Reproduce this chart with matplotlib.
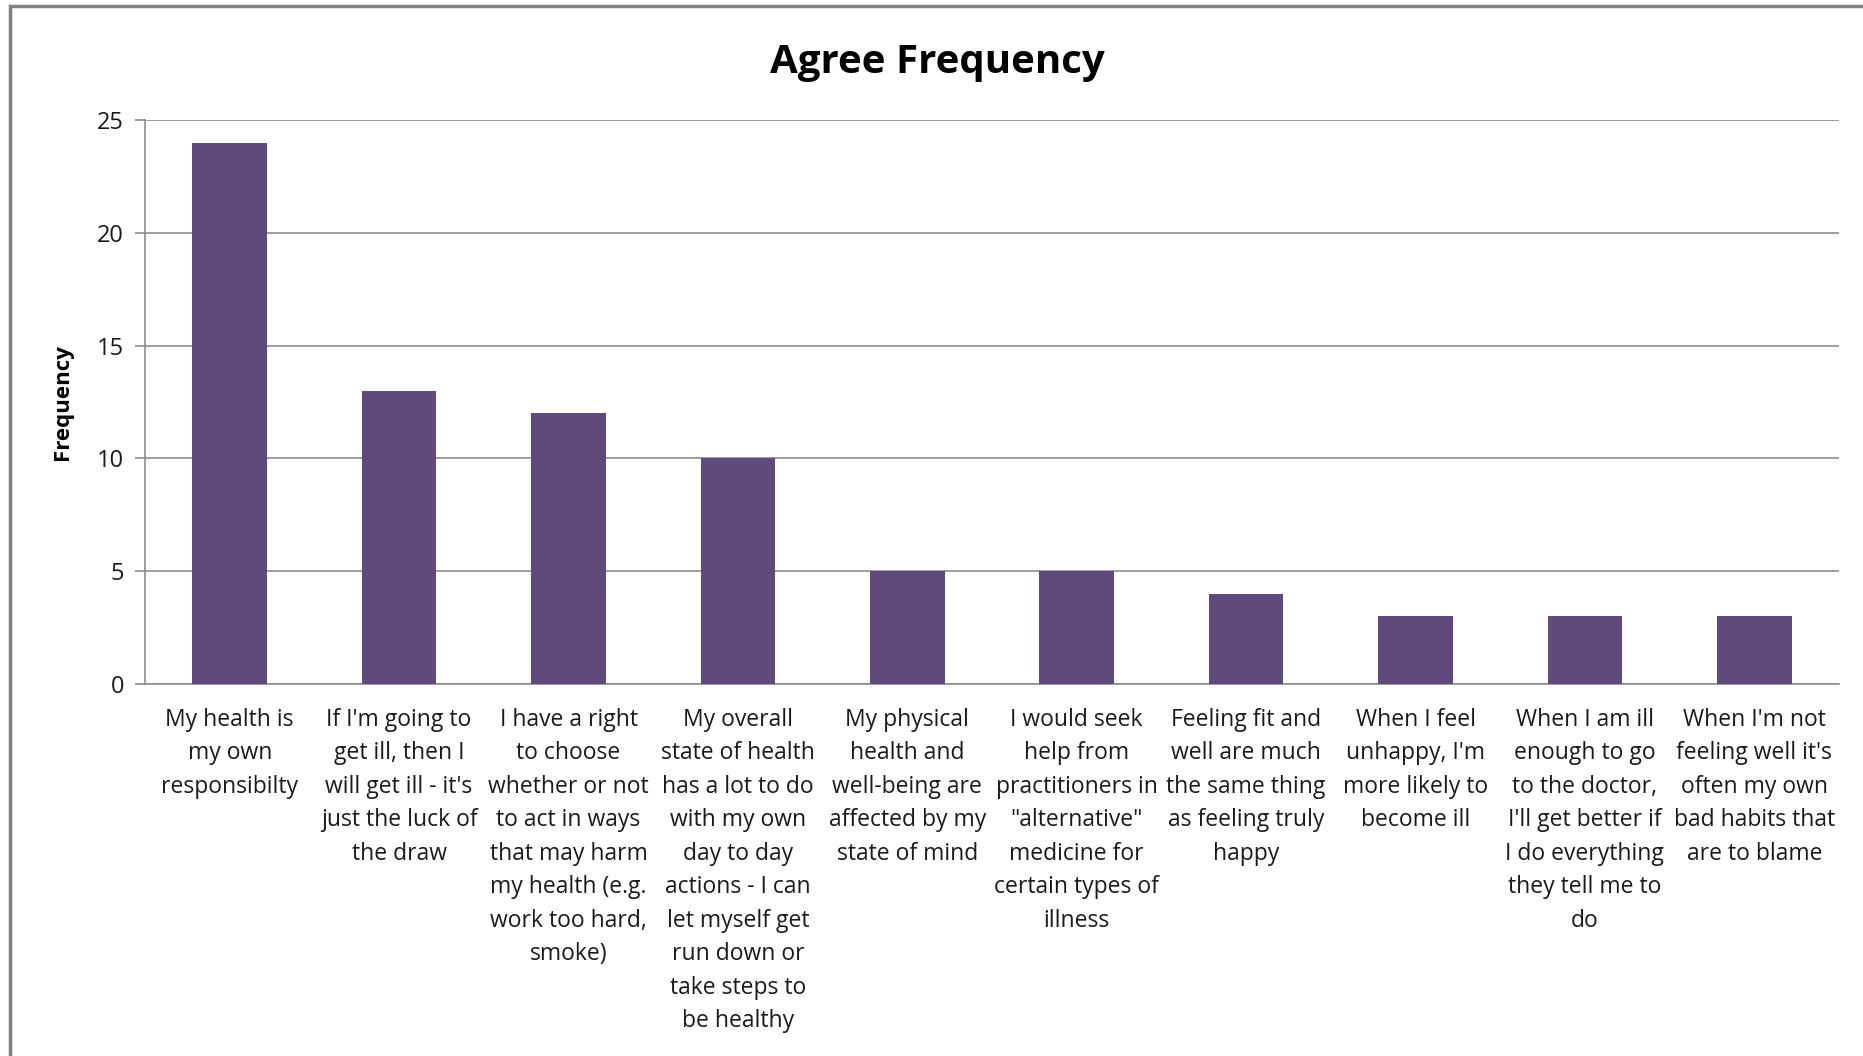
import matplotlib
matplotlib.use("Agg")
import matplotlib.pyplot as plt
from matplotlib.patches import Rectangle

# data
statements = [
    "My health is\nmy own\nresponsibilty",
    "If I'm going to\nget ill, then I\nwill get ill - it's\njust the luck of\nthe draw",
    "I have a right\nto choose\nwhether or not\nto act in ways\nthat may harm\nmy health (e.g.\nwork too hard,\nsmoke)",
    "My overall\nstate of health\nhas a lot to do\nwith my own\nday to day\nactions - I can\nlet myself get\nrun down or\ntake steps to\nbe healthy",
    "My physical\nhealth and\nwell-being are\naffected by my\nstate of mind",
    "I would seek\nhelp from\npractitioners in\n\"alternative\"\nmedicine for\ncertain types of\nillness",
    "Feeling fit and\nwell are much\nthe same thing\nas feeling truly\nhappy",
    "When I feel\nunhappy, I'm\nmore likely to\nbecome ill",
    "When I am ill\nenough to go\nto the doctor,\nI'll get better if\nI do everything\nthey tell me to\ndo",
    "When I'm not\nfeeling well it's\noften my own\nbad habits that\nare to blame",
]
freq = [24, 13, 12, 10, 5, 5, 4, 3, 3, 3]
yticks = [0, 5, 10, 15, 20, 25]

BAR = "#5f4a7b"
GRID = "#8c8c8c"
FONT = ["Open Sans", "DejaVu Sans"]

plt.rcParams["font.family"] = FONT

fig = plt.figure(figsize=(18.63, 10.56), dpi=100)
W, H = 1863, 1056
# plot area in pixels: left 145, right 1839, top 120, bottom 684
ax = fig.add_axes([145 / W, 1 - 684 / H, (1839 - 145) / W, (684 - 120) / H])

x = list(range(len(freq)))
ax.bar(x, freq, width=0.44, color=BAR, zorder=3)
ax.set_xlim(-0.5, len(freq) - 0.5)
ax.set_ylim(0, 25)
ax.set_yticks(yticks)
ax.yaxis.grid(True, color=GRID, linewidth=1.2, zorder=0)

ax.set_xticks(x)
ax.set_xticklabels(statements, fontsize=16.5, color="#1a1a1a", linespacing=1.53, va="top")
ax.tick_params(axis="x", length=0, pad=17)
ax.tick_params(axis="y", length=7, width=1.2, color=GRID, labelsize=17, pad=8, labelcolor="#1a1a1a")

for side in ["top", "right"]:
    ax.spines[side].set_visible(False)
for side in ["left", "bottom"]:
    ax.spines[side].set_color(GRID)
    ax.spines[side].set_linewidth(1.2)

ax.set_ylabel("Frequency", fontsize=16, fontweight="bold", labelpad=17)
fig.text(937 / W, 1 - 62 / H, "Agree Frequency", fontsize=29, fontweight="bold",
         ha="center", va="center")

# chart border (only left and top visible in the crop)
fig.patches.append(Rectangle((10 / W, -0.05), 1.1, 1 - 6 / H + 0.05, transform=fig.transFigure,
                             fill=False, edgecolor="#808080", linewidth=2.5))

fig.savefig("out.png", dpi=100, facecolor="white")
